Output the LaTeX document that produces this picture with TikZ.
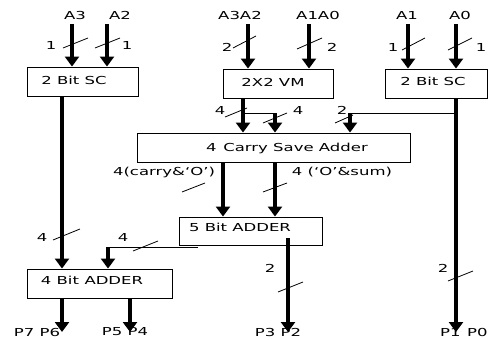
\documentclass[tikz,border=0pt]{standalone}
\usepackage{fontspec}
\setmainfont{DejaVu Sans}[FakeStretch=1.5]
\usetikzlibrary{arrows.meta}
\begin{document}
\begin{tikzpicture}[x=1pt,y=-1pt,
  box/.style={draw,line width=0.9pt,inner sep=0pt},
  txt/.style={inner sep=0pt,font=\fontsize{11}{12}\selectfont},
  arr/.style={line width=3.6pt,-{Triangle[length=10pt,width=14pt]}},
  thin/.style={line width=0.9pt},
  slash/.style={line width=0.8pt}]
\useasboundingbox (0,0) rectangle (488,340);
% boxes
\node[box,minimum width=111pt,minimum height=29pt] (sc1) at (82.5,81.5) {};
\node[box,minimum width=110pt,minimum height=29pt] (vm) at (278,83.5) {};
\node[box,minimum width=102pt,minimum height=29pt] (sc2) at (436,83.5) {};
\node[box,minimum width=273pt,minimum height=29pt] (csa) at (273.5,147.5) {};
\node[box,minimum width=143pt,minimum height=28pt] (add5) at (250.5,231) {};
\node[box,minimum width=145pt,minimum height=29pt] (add4) at (99.5,283.5) {};
% box texts
\node[txt] (sc1t) at (74,80) {2 Bit SC};
\node[txt] (vmt) at (273,82) {2X2 VM};
\node[txt] (sc2t) at (433,81) {2 Bit SC};
\node[txt] (csat) at (287,148) {4\hspace{0.6em}Carry Save Adder};
\node[txt] (add5t) at (240,227) {5 Bit ADDER};
\node[txt] (add4t) at (92,280) {4 Bit\hspace{0.5em}ADDER};
% input labels
\node[txt] (A3) at (75,15) {A3};
\node[txt] (A2) at (120,15) {A2};
\node[txt] (A3A2) at (240,15) {A3A2};
\node[txt] (A1A0) at (318,15) {A1A0};
\node[txt] (A1) at (407,15) {A1};
\node[txt] (A0) at (460,15) {A0};
% output labels
\node[txt] (P76) at (37,332) {P7 P6};
\node[txt] (P54) at (125,332) {P5 P4};
\node[txt] (P32) at (278,332) {P3 P2};
\node[txt,anchor=west] (P10) at (440,332) {P1\hspace{0.6em}P0};
% input arrow origins
\coordinate (iA3) at (72,24);
\coordinate (iA2) at (107,24);
\coordinate (iA3A2) at (248,24);
\coordinate (iA1A0) at (309,24);
\coordinate (iA1) at (408,24);
\coordinate (iA0) at (456,24);
\draw[arr] (iA3) -- (iA3 |- sc1.north);
\draw[arr] (iA2) -- (iA2 |- sc1.north);
\draw[arr] (iA3A2) -- (iA3A2 |- vm.north);
\draw[arr] (iA1A0) -- (iA1A0 |- vm.north);
\draw[arr] (iA1) -- (iA1 |- sc2.north);
\draw[arr] (iA0) -- (iA0 |- sc2.north);
% internal coordinates
\coordinate (o1) at (62,96);
\coordinate (vmo) at (243,98);
\coordinate (vmj) at (243,113);
\coordinate (vmk) at (275,113);
\coordinate (sco) at (456,98);
\coordinate (scj) at (456,113);
\coordinate (sck) at (350,113);
\coordinate (cl) at (223,162);
\coordinate (cr) at (275,162);
\coordinate (a5o) at (288,238);
\coordinate (a5l) at (198,247);
\coordinate (a5k) at (108,247);
\coordinate (a4l) at (62,298);
\coordinate (a4r) at (130,298);
% connectors
\draw[arr] (o1) -- (o1 |- add4.north);
\draw[arr] (vmo) -- (vmo |- csa.north);
\draw[thin] (vmj) -- (vmk);
\draw[arr] (vmk) -- (vmk |- csa.north);
\draw[arr] (sco) -- (P10.west -| sco);
\draw[thin] (scj) -- (sck);
\draw[arr] (sck) -- (sck |- csa.north);
\draw[arr] (cl) -- (cl |- add5.north);
\draw[arr] (cr) -- (cr |- add5.north);
\draw[arr] (a5o) -- (P32.center -| a5o);
\draw[thin] (a5l) -- (a5k);
\draw[arr] (a5k) -- (a5k |- add4.north);
\draw[arr] (a4l) -- (P76.center -| a4l);
\draw[arr] (a4r) -- (P54.center -| a4r);
% bus width slashes and labels
\draw[slash] (63,48) -- (88,38);   \node[txt] (w1) at (51,45) {1};
\draw[slash] (95,48) -- (120,38);  \node[txt] (w2) at (127,45) {1};
\draw[slash] (233,48) -- (256,36); \node[txt] (w3) at (227,47) {2};
\draw[slash] (297,49) -- (322,38); \node[txt] (w4) at (332,47) {2};
\draw[slash] (402,50) -- (425,38); \node[txt] (w5) at (393,47) {1};
\draw[slash] (448,50) -- (472,38); \node[txt] (w6) at (481,47) {1};
\draw[slash] (225,117) -- (247,108); \node[txt] (w7) at (220,110) {4};
\draw[slash] (263,123) -- (287,113); \node[txt] (w8) at (298,110) {4};
\draw[slash] (335,123) -- (353,115); \node[txt] (w9) at (342,110) {2};
\draw[slash] (182,192) -- (205,183); \node[txt] (w10) at (164,172) {4(carry\&‘O’)};
\draw[slash] (263,192) -- (287,183); \node[txt] (w11) at (342,172) {4 (‘O’\&sum)};
\draw[slash] (53,240) -- (80,229); \node[txt] (w12) at (42,237) {4};
\draw[slash] (133,251) -- (158,241); \node[txt] (w13) at (123,237) {4};
\draw[slash] (278,292) -- (303,282); \node[txt] (w14) at (270,268) {2};
\draw[slash] (448,281) -- (473,271); \node[txt] (w15) at (443,268) {2};
\end{tikzpicture}
\end{document}
